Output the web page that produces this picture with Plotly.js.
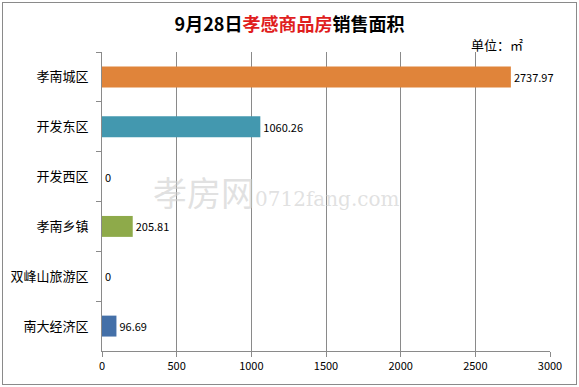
<!DOCTYPE html>
<html><head><meta charset="utf-8">
<script src="https://cdn.plot.ly/plotly-3.0.1.min.js"></script>
<style>body{margin:0;}#wrap{position:relative;width:579px;height:387px;}
#frame{position:absolute;left:2px;top:2px;width:573px;height:381px;border:1px solid #8a8a8a;pointer-events:none;}</style>
</head><body><div id="wrap"><div id="chart" style="width:579px;height:387px;"></div><div id="frame"></div></div>
<script>
const categories = ["孝南城区","开发东区","开发西区","孝南乡镇","双峰山旅游区","南大经济区"];
const values = [2737.97, 1060.26, 0, 205.81, 0, 96.69];
const labels = ["2737.97","1060.26","0","205.81","0","96.69"];
const colors = ["#E0843A","#4398AF","#E0843A","#8EAA4A","#E0843A","#4470A8"];
const xTicks = [0,500,1000,1500,2000,2500,3000];

const font = "Noto Sans CJK SC, Open Sans, sans-serif";
Plotly.newPlot("chart", [{
  type: "bar", orientation: "h",
  y: categories, x: values,
  marker: {color: colors},
  text: labels, textposition: "outside", cliponaxis: false,
  textfont: {size: 11, color: "#000", family: font},
  width: 0.42, hoverinfo: "none"
}], {
  width: 579, height: 387,
  margin: {l: 102, r: 29, t: 52, b: 36},
  paper_bgcolor: "#fff", plot_bgcolor: "#fff",
  showlegend: false,
  font: {family: font, color: "#000"},
  title: {text: '<b>9月28日<span style="color:#E01E1E">孝感商品房</span>销售面积</b>',
    x: 0.5, xanchor: "center", y: 0.935, yanchor: "middle",
    font: {size: 18, family: font, color: "#000"}},
  xaxis: {range: [0, 3000], tickvals: xTicks, ticktext: xTicks.map(String),
    showgrid: true, gridcolor: "#8a8a8a", gridwidth: 1,
    showline: true, linecolor: "#8a8a8a", ticks: "outside", ticklen: 5, tickcolor: "#8a8a8a",
    zeroline: false, tickfont: {size: 11}, fixedrange: true},
  yaxis: {type: "category", categoryorder: "array", categoryarray: categories,
    autorange: "reversed", showline: true, linecolor: "#8a8a8a",
    ticks: "outside", ticklen: 5, tickcolor: "#8a8a8a", tickson: "boundaries",
    ticklabelstandoff: 10,
    showgrid: false, tickfont: {size: 13}, fixedrange: true},
  annotations: [
    {text: "单位：㎡", xref: "paper", yref: "paper", x: 0.945, y: 1.0, xanchor: "right", yanchor: "bottom",
     showarrow: false, font: {size: 13, color: "#000"}, yshift: -4},
    {text: "孝房网<span style='font-size:20px;font-family:DejaVu Serif'>0712fang.com</span>", xref: "paper", yref: "paper",
     x: 0.11, y: 0.535, xanchor: "left", yanchor: "middle", showarrow: false,
     font: {size: 34, color: "rgba(205,205,205,0.6)", family: font}}
  ]
}, {displayModeBar: false, staticPlot: true});
</script></body></html>
